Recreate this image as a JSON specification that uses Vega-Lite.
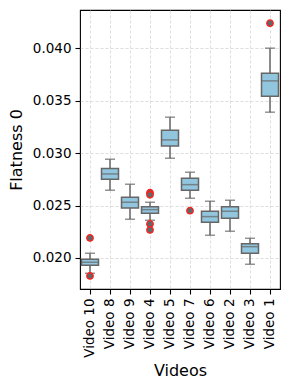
{
  "$schema": "https://vega.github.io/schema/vega-lite/v6.json",
  "width": 200,
  "height": 279,
  "autosize": {"type": "none"},
  "padding": {"left": 80, "top": 10, "right": 10, "bottom": 101},
  "background": "white",
  "config": {
    "font": "DejaVu Sans",
    "view": {"stroke": "black", "strokeWidth": 1.1},
    "axis": {
      "labelFont": "DejaVu Sans",
      "titleFont": "DejaVu Sans",
      "labelFontSize": 13.5,
      "titleFontSize": 16,
      "titleFontWeight": "normal",
      "labelColor": "black",
      "titleColor": "black",
      "tickColor": "black",
      "tickSize": 5,
      "tickWidth": 1.1,
      "labelPadding": 4,
      "domain": false,
      "grid": true,
      "gridColor": "#d0d0d0",
      "gridDash": [3, 2],
      "gridWidth": 0.7
    }
  },
  "datasets": {
    "stats": [
      {"video": "Video 10", "lo": 0.01854, "q1": 0.019303, "med": 0.01959, "q3": 0.019876, "hi": 0.020449},
      {"video": "Video 8", "lo": 0.02646, "q1": 0.027509, "med": 0.028015, "q3": 0.028521, "hi": 0.029418},
      {"video": "Video 9", "lo": 0.023693, "q1": 0.024771, "med": 0.025315, "q3": 0.025792, "hi": 0.027032},
      {"video": "Video 4", "lo": 0.023597, "q1": 0.024265, "med": 0.024609, "q3": 0.024895, "hi": 0.025315},
      {"video": "Video 5", "lo": 0.029513, "q1": 0.030687, "med": 0.03126, "q3": 0.032185, "hi": 0.033426},
      {"video": "Video 7", "lo": 0.025696, "q1": 0.02646, "med": 0.026994, "q3": 0.027605, "hi": 0.028177},
      {"video": "Video 6", "lo": 0.022166, "q1": 0.023406, "med": 0.023944, "q3": 0.024456, "hi": 0.02541},
      {"video": "Video 2", "lo": 0.022548, "q1": 0.023788, "med": 0.024456, "q3": 0.024895, "hi": 0.025506},
      {"video": "Video 3", "lo": 0.019399, "q1": 0.020449, "med": 0.021078, "q3": 0.021365, "hi": 0.021878},
      {"video": "Video 1", "lo": 0.033903, "q1": 0.03543, "med": 0.036889, "q3": 0.037624, "hi": 0.04001}
    ],
    "outliers": [
      {"video": "Video 10", "value": 0.021908},
      {"video": "Video 10", "value": 0.018282},
      {"video": "Video 4", "value": 0.02623},
      {"video": "Video 4", "value": 0.02603},
      {"video": "Video 4", "value": 0.023244},
      {"video": "Video 4", "value": 0.022672},
      {"video": "Video 7", "value": 0.024513},
      {"video": "Video 1", "value": 0.042395}
    ]
  },
  "encoding": {
    "x": {
      "field": "video",
      "type": "nominal",
      "sort": ["Video 10", "Video 8", "Video 9", "Video 4", "Video 5", "Video 7", "Video 6", "Video 2", "Video 3", "Video 1"],
      "scale": {"type": "band", "paddingInner": 0, "paddingOuter": 0},
      "axis": {"title": "Videos", "labelAngle": -90, "titlePadding": 5}
    }
  },
  "layer": [
    {
      "data": {"name": "stats"},
      "mark": {"type": "rule", "color": "#666666", "strokeWidth": 1.5},
      "encoding": {
        "y": {
          "field": "lo",
          "type": "quantitative",
          "scale": {"domain": [0.01704, 0.04365], "nice": false, "zero": false},
          "axis": {"title": "Flatness 0", "values": [0.02, 0.025, 0.03, 0.035, 0.04], "format": ".3f", "titlePadding": 8}
        },
        "y2": {"field": "hi"}
      }
    },
    {
      "data": {"name": "stats"},
      "mark": {"type": "tick", "color": "#666666", "size": 10, "thickness": 1.5},
      "encoding": {"y": {"field": "lo", "type": "quantitative"}}
    },
    {
      "data": {"name": "stats"},
      "mark": {"type": "tick", "color": "#666666", "size": 10, "thickness": 1.5},
      "encoding": {"y": {"field": "hi", "type": "quantitative"}}
    },
    {
      "data": {"name": "stats"},
      "mark": {"type": "bar", "size": 17, "fill": "#92c5de", "stroke": "#666666", "strokeWidth": 1.5},
      "encoding": {
        "y": {"field": "q1", "type": "quantitative"},
        "y2": {"field": "q3"}
      }
    },
    {
      "data": {"name": "stats"},
      "mark": {"type": "tick", "color": "#666666", "size": 17, "thickness": 1.5},
      "encoding": {"y": {"field": "med", "type": "quantitative"}}
    },
    {
      "data": {"name": "outliers"},
      "mark": {"type": "point", "shape": "circle", "filled": true, "fill": "#666666", "stroke": "#ff2020", "strokeWidth": 1.3, "size": 42, "opacity": 1, "fillOpacity": 1, "strokeOpacity": 1},
      "encoding": {"y": {"field": "value", "type": "quantitative"}}
    }
  ]
}
